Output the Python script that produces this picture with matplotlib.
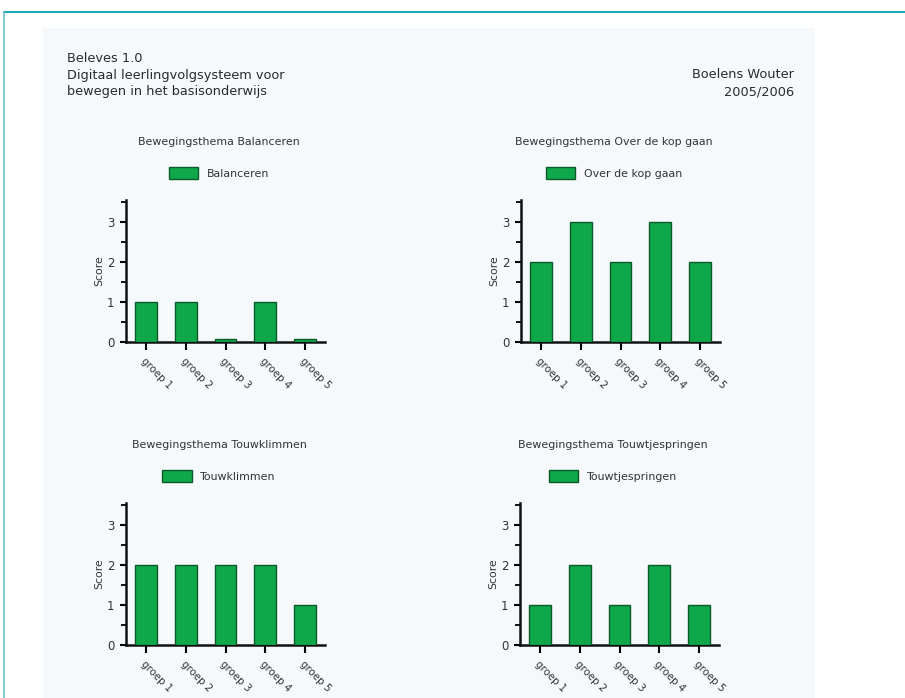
import matplotlib
matplotlib.use("Agg")
import matplotlib.pyplot as plt
from matplotlib.patches import Rectangle
from matplotlib.lines import Line2D
from matplotlib.ticker import MultipleLocator

categories = ["groep 1", "groep 2", "groep 3", "groep 4", "groep 5"]
balanceren = [1, 1, 0.08, 1, 0.08]
over_de_kop = [2, 3, 2, 3, 2]
touwklimmen = [2, 2, 2, 2, 1]
touwtjespringen = [1, 2, 1, 2, 1]

themes = ["Balanceren", "Over de kop gaan", "Touwklimmen", "Touwtjespringen"]
series = [balanceren, over_de_kop, touwklimmen, touwtjespringen]

W, H = 905, 698
fig = plt.figure(figsize=(W / 100, H / 100), dpi=100)
fig.patch.set_facecolor("white")

def fx(px):
    return px / W

def fy(py):
    return 1 - py / H

# page panel and frame lines
fig.add_artist(Rectangle((fx(43), 0), fx(815) - fx(43), fy(28), transform=fig.transFigure,
                         facecolor="#f5f9fc", edgecolor="none", zorder=0))
fig.add_artist(Line2D([fx(4), 1], [fy(12), fy(12)], transform=fig.transFigure,
                      color="#1fa8b3", lw=1.5))
fig.add_artist(Line2D([fx(4), fx(4)], [fy(12), 0], transform=fig.transFigure,
                      color="#6cc3c9", lw=1.2))

txtc = "#333333"
hdr = dict(fontsize=9.3, color="#2a2a2a")
fig.text(fx(67), fy(58), "Beleves 1.0", ha="left", va="center", **hdr)
fig.text(fx(67), fy(75), "Digitaal leerlingvolgsysteem voor", ha="left", va="center", **hdr)
fig.text(fx(67), fy(91), "bewegen in het basisonderwijs", ha="left", va="center", **hdr)
fig.text(fx(794), fy(75), "Boelens Wouter", ha="right", va="center", **hdr)
fig.text(fx(794), fy(92), "2005/2006", ha="right", va="center", **hdr)

# axes geometry: (axis left px, zero-line px)
geoms = [(126, 342), (521, 342), (126, 645), (520, 645)]
axis_w = 199
axis_h = 142
green = "#0ea84b"
edge = "#0c5a28"

for (lx, zy), theme, vals in zip(geoms, themes, series):
    ax = fig.add_axes([fx(lx), fy(zy), axis_w / W, axis_h / H])
    ax.set_facecolor("none")
    x = list(range(len(categories)))
    ax.bar(x, vals, width=0.55, color=green, edgecolor=edge, linewidth=1.0, zorder=3)
    ax.set_xlim(-0.5, 4.5)
    ax.set_ylim(0, 3.55)
    for s in ["top", "right"]:
        ax.spines[s].set_visible(False)
    for s in ["left", "bottom"]:
        ax.spines[s].set_linewidth(1.8)
        ax.spines[s].set_color("#111111")
    ax.set_xticks(x)
    ax.set_xticklabels(categories, rotation=-45, ha="left", va="top",
                       rotation_mode="anchor", fontsize=7.4, color=txtc)
    ax.yaxis.set_major_locator(MultipleLocator(1))
    ax.yaxis.set_minor_locator(MultipleLocator(0.5))
    ax.tick_params(axis="y", which="major", length=4.5, width=1.5, labelsize=8.5,
                   pad=4, labelcolor=txtc, direction="out")
    ax.tick_params(axis="y", which="minor", length=3.5, width=1.3, direction="out")
    ax.tick_params(axis="x", which="major", length=6, width=1.5, pad=4, direction="out")
    ax.set_ylabel("Score", fontsize=7.8, color=txtc, labelpad=2)

    cx = lx + 93
    fig.text(fx(cx), fy(zy - 200), "Bewegingsthema " + theme, ha="center", va="center",
             fontsize=7.9, color=txtc)
    leg_handle = Rectangle((0, 0), 1, 1, facecolor=green, edgecolor=edge, linewidth=1.0)
    fig.legend([leg_handle], [theme], loc="center",
               bbox_to_anchor=(fx(cx), fy(zy - 169)), bbox_transform=fig.transFigure,
               frameon=False, fontsize=7.9, handlelength=2.7, handleheight=1.3,
               handletextpad=0.8, borderpad=0, labelcolor=txtc)

fig.savefig("out.png", dpi=100, facecolor=fig.get_facecolor())
